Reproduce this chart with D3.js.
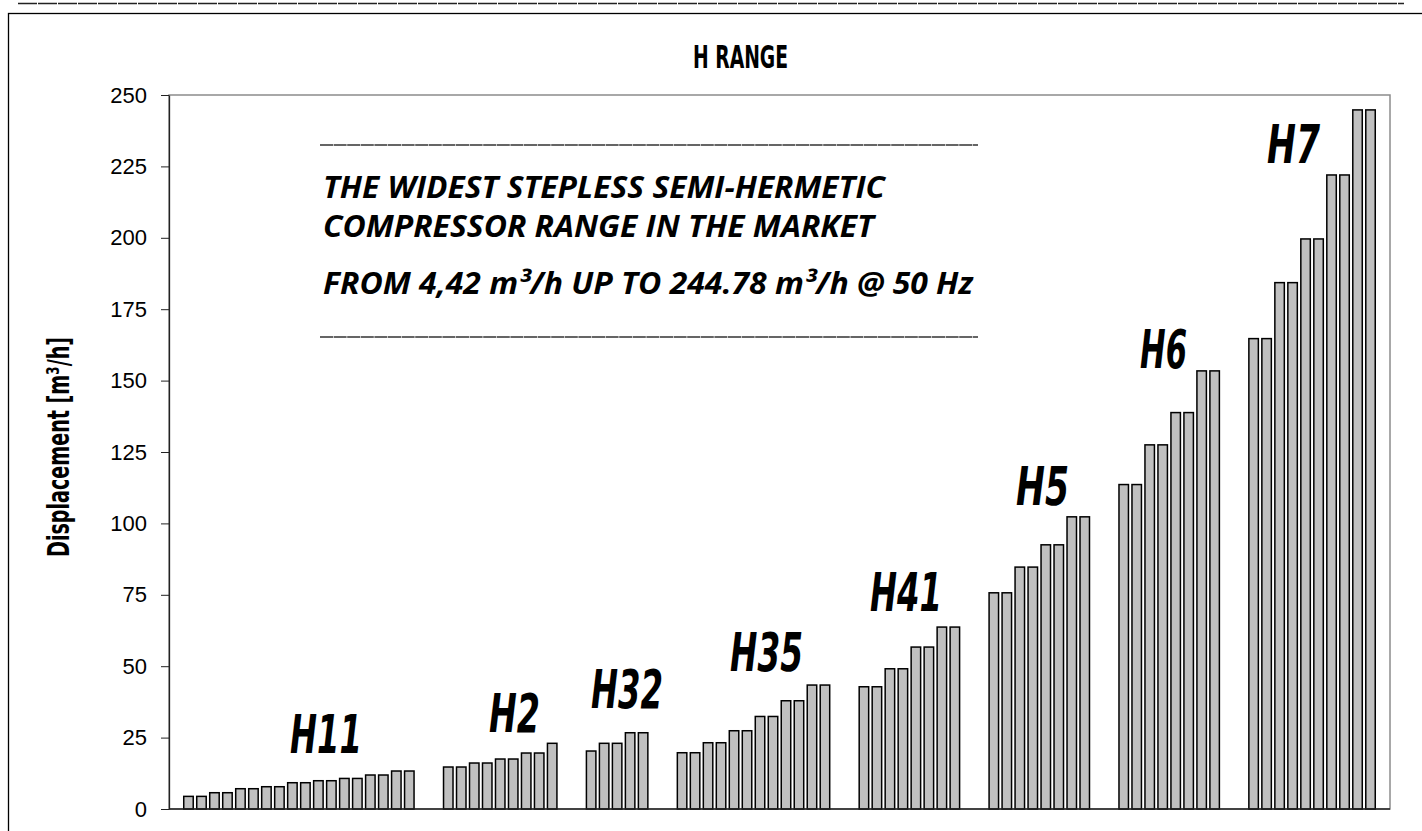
<!DOCTYPE html>
<html>
<head>
<meta charset="utf-8">
<script src="https://cdn.jsdelivr.net/npm/d3@7.9.0/dist/d3.min.js"></script>
<style>
  body { margin: 0; background: #fff; }
  svg { display: block; }
</style>
</head>
<body>
<svg id="chart" width="1422" height="831"></svg>
<script>
// compressor families and their displacement values (m3/h @ 50 Hz)
const seriesNames = ['H11', 'H2', 'H32', 'H35', 'H41', 'H5', 'H6', 'H7'];
const h11Values = [4.42, 4.42, 5.7, 5.7, 7.1, 7.1, 7.8, 7.8, 9.2, 9.2, 9.9, 9.9, 10.7, 10.7, 11.9, 11.9, 13.3, 13.3];
const h2Values = [14.7, 14.7, 16.1, 16.1, 17.5, 17.5, 19.6, 19.6, 23.0];
const h32Values = [20.3, 23.0, 23.0, 26.7, 26.7];
const h35Values = [19.7, 19.7, 23.2, 23.2, 27.4, 27.4, 32.4, 32.4, 37.9, 37.9, 43.4, 43.4];
const h41Values = [42.8, 42.8, 49.1, 49.1, 56.7, 56.7, 63.7, 63.7];
const h5Values = [75.7, 75.7, 84.7, 84.7, 92.5, 92.5, 102.3, 102.3];
const h6Values = [113.6, 113.6, 127.5, 127.5, 138.8, 138.8, 153.4, 153.4];
const h7Values = [164.7, 164.7, 184.3, 184.3, 199.6, 199.6, 222.0, 222.0, 244.78, 244.78];
const seriesValues = [h11Values, h2Values, h32Values, h35Values, h41Values, h5Values, h6Values, h7Values];

const yTicks = [0, 25, 50, 75, 100, 125, 150, 175, 200, 225, 250];
const titleText = 'H RANGE';
const yLabelText = 'Displacement [m³/h]';
const boxLines = [
  'THE WIDEST STEPLESS SEMI-HERMETIC',
  'COMPRESSOR RANGE IN THE MARKET',
  'FROM 4,42 m³/h UP TO 244.78 m³/h @ 50 Hz'
];

// where the family names sit (left, baseline, width) - hand placed like the original
const labelLayout = [
  [290, 753, 72], [489, 732, 51], [591, 708, 72], [730, 671, 73],
  [870, 611, 72], [1016, 505, 53], [1140, 368, 47], [1267, 163, 53]
];

const plot = { left: 169, right: 1390, top: 95, bottom: 809 };
const condensed = "'Liberation Sans Narrow', 'DejaVu Sans Condensed', 'Roboto', sans-serif";

// category slots: one empty at each end, two empty between families
const categories = [{ key: 'pad-start', value: null }];
seriesValues.forEach((vals, gi) => {
  if (gi > 0) {
    categories.push({ key: `gap-${gi}-a`, value: null });
    categories.push({ key: `gap-${gi}-b`, value: null });
  }
  vals.forEach((v, i) => categories.push({ key: `${seriesNames[gi]}-${i}`, group: seriesNames[gi], value: v }));
});
categories.push({ key: 'pad-end', value: null });

const svg = d3.select('#chart');

const x = d3.scaleBand()
  .domain(categories.map(d => d.key))
  .range([plot.left, plot.right])
  .paddingInner(0.27)
  .paddingOuter(0.135);

const y = d3.scaleLinear()
  .domain([0, 250])
  .range([plot.bottom, plot.top]);

// top rule and outer frame
svg.append('line')
  .attr('x1', 18).attr('x2', 1404)
  .attr('y1', 3.5).attr('y2', 3.5)
  .attr('stroke', '#222')
  .attr('stroke-width', 1.5)
  .attr('stroke-dasharray', '19,1');

svg.append('rect')
  .attr('x', 8.5).attr('y', 13.5)
  .attr('width', 1430).attr('height', 840)
  .attr('fill', 'none')
  .attr('stroke', '#000')
  .attr('stroke-width', 1.3);

// plot area border (grey top/right)
svg.append('rect')
  .attr('x', plot.left).attr('y', plot.top)
  .attr('width', plot.right - plot.left)
  .attr('height', plot.bottom - plot.top)
  .attr('fill', 'none')
  .attr('stroke', '#8c8c8c')
  .attr('stroke-width', 1.5);

// bars
svg.append('g')
  .selectAll('rect')
  .data(categories.filter(d => d.value !== null))
  .join('rect')
  .attr('x', d => x(d.key))
  .attr('y', d => y(d.value))
  .attr('width', x.bandwidth())
  .attr('height', d => y(0) - y(d.value))
  .attr('fill', '#c0c0c0')
  .attr('stroke', '#000')
  .attr('stroke-width', 1.5);

// axes
const yAxis = svg.append('g')
  .attr('transform', `translate(${plot.left},0)`)
  .call(d3.axisLeft(y).tickValues(yTicks).tickSize(8).tickSizeOuter(0).tickPadding(14));
yAxis.select('.domain').attr('stroke', '#222').attr('stroke-width', 1.3);
yAxis.selectAll('.tick line').attr('stroke', '#222');
yAxis.selectAll('.tick text')
  .attr('font-family', "'Liberation Sans', Arial, sans-serif")
  .attr('font-size', 22)
  .attr('fill', '#000');

svg.append('line')
  .attr('x1', plot.left).attr('x2', plot.right)
  .attr('y1', y(0)).attr('y2', y(0))
  .attr('stroke', '#222')
  .attr('stroke-width', 1.3);

// title
svg.append('text')
  .attr('x', 693).attr('y', 68)
  .attr('font-family', condensed)
  .attr('font-weight', 'bold')
  .attr('font-size', 32)
  .attr('textLength', 95)
  .attr('lengthAdjust', 'spacingAndGlyphs')
  .text(titleText);

// y axis title
svg.append('text')
  .attr('transform', 'translate(69,557) rotate(-90)')
  .attr('font-family', condensed)
  .attr('font-weight', 'bold')
  .attr('font-size', 31)
  .attr('textLength', 220)
  .attr('lengthAdjust', 'spacingAndGlyphs')
  .text(yLabelText);

// family labels
svg.append('g')
  .selectAll('text')
  .data(seriesNames)
  .join('text')
  .attr('x', (d, i) => labelLayout[i][0])
  .attr('y', (d, i) => labelLayout[i][1])
  .attr('textLength', (d, i) => labelLayout[i][2])
  .attr('lengthAdjust', 'spacingAndGlyphs')
  .attr('font-family', condensed)
  .attr('font-weight', 'bold')
  .attr('font-style', 'italic')
  .attr('font-size', 54)
  .text(d => d);

// text box with rules
[145, 337].forEach(ry => {
  svg.append('line')
    .attr('x1', 320).attr('x2', 978)
    .attr('y1', ry).attr('y2', ry)
    .attr('stroke', '#333')
    .attr('stroke-width', 1.6)
    .attr('stroke-dasharray', '13,0.6');
});

const boxY = [198, 237, 294];
const boxW = [562, 551, 650];
boxLines.forEach((line, i) => {
  svg.append('text')
    .attr('x', 323).attr('y', boxY[i])
    .attr('font-family', "'Open Sans', 'Noto Sans', sans-serif")
    .attr('font-weight', 'bold')
    .attr('font-style', 'italic')
    .attr('font-size', 30)
    .attr('textLength', boxW[i])
    .attr('lengthAdjust', 'spacingAndGlyphs')
    .text(line);
});
</script>
</body>
</html>
